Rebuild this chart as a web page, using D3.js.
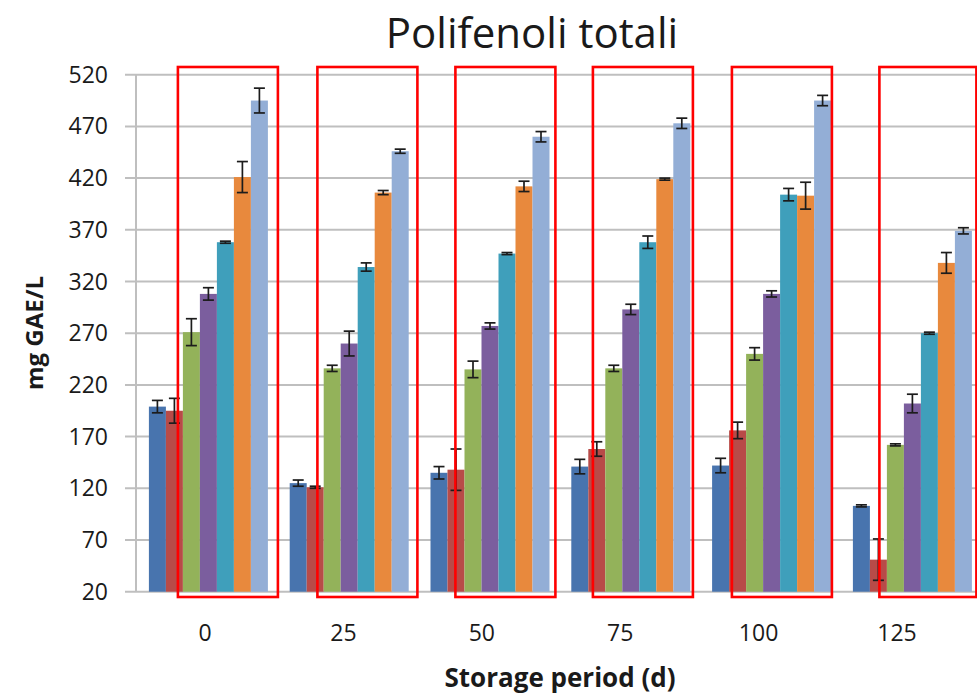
<!DOCTYPE html>
<html>
<head>
<meta charset="utf-8">
<script src="https://cdn.jsdelivr.net/npm/d3@7/dist/d3.min.js"></script>
<style>
  html, body { margin: 0; padding: 0; background: #fff; }
  svg { display: block; }
  text { font-family: "Open Sans", "Noto Sans", sans-serif; fill: #1a1a1a; }
</style>
</head>
<body>
<svg id="chart" width="977" height="694"></svg>
<script>
// Storage period (days)
const categories = ["0", "25", "50", "75", "100", "125"];
const yTicks = [20, 70, 120, 170, 220, 270, 320, 370, 420, 470, 520];

// Total polyphenols (mg GAE/L), one array per sample
const serie1 = [199, 125, 135, 141, 142, 103];
const serie2 = [195, 121, 138, 158, 176, 51];
const serie3 = [271, 236, 235, 236, 250, 162];
const serie4 = [308, 260, 277, 293, 308, 202];
const serie5 = [358, 334, 347, 358, 404, 270];
const serie6 = [421, 406, 412, 419, 403, 338];
const serie7 = [495, 446, 460, 473, 495, 369];

// Standard deviations
const err1 = [6, 3, 6, 7, 7, 1];
const err2 = [12, 1, 20, 7, 8, 20];
const err3 = [13, 3, 8, 3, 6, 1];
const err4 = [6, 12, 3, 5, 3, 9];
const err5 = [1, 4, 1, 6, 6, 1];
const err6 = [15, 2, 5, 1, 13, 10];
const err7 = [12, 2, 5, 5, 5, 3];

const seriesValues = [serie1, serie2, serie3, serie4, serie5, serie6, serie7];
const seriesErrors = [err1, err2, err3, err4, err5, err6, err7];
const colors = ["#4874ae", "#b84b48", "#93b25a", "#7b5e9e", "#3f9fbb", "#e8893d", "#93aed6"];

const svg = d3.select("#chart");
const W = 977, H = 694;
const axisX = 136, plotTop = 74.7, plotBottom = 591.7;

const y = d3.scaleLinear().domain([20, 520]).range([plotBottom, plotTop]);
const x0 = d3.scaleBand().domain(categories).range([138, 138 + 6 * 140.8]).padding(0);
const x1 = d3.scaleBand().domain(d3.range(7))
  .range([10.9, x0.bandwidth() - 10.9]).padding(0);
// Category labels sit on their own, slightly tighter spacing
const xLabel = d3.scalePoint().domain(categories).range([205, 897]);

// Title
svg.append("text").attr("x", 532).attr("y", 48).attr("text-anchor", "middle")
  .style("font-size", "42px").text("Polifenoli totali");

// Horizontal gridlines
svg.append("g").selectAll("line").data(yTicks).join("line")
  .attr("x1", 125).attr("x2", W)
  .attr("y1", d => y(d)).attr("y2", d => y(d))
  .attr("stroke", "#bfbfbf").attr("stroke-width", 2);

// Vertical axis line
svg.append("line").attr("x1", axisX).attr("x2", axisX)
  .attr("y1", plotTop).attr("y2", plotBottom)
  .attr("stroke", "#bfbfbf").attr("stroke-width", 2);

// Y tick labels
svg.append("g").selectAll("text").data(yTicks).join("text")
  .attr("x", 108).attr("y", d => y(d)).attr("dy", "0.35em")
  .attr("text-anchor", "end").style("font-size", "23px")
  .text(d => d);

// Bars with error bars
const groups = svg.append("g").selectAll("g").data(categories).join("g")
  .attr("transform", d => `translate(${x0(d)},0)`);

groups.each(function(cat, ci) {
  const g = d3.select(this);
  seriesValues.forEach((vals, si) => {
    const v = vals[ci], e = seriesErrors[si][ci];
    const bx = x1(si), bw = x1.bandwidth();
    g.append("rect")
      .attr("x", bx).attr("width", bw)
      .attr("y", y(v)).attr("height", y(20) - y(v))
      .attr("fill", colors[si]);
    const cx = bx + bw / 2, cap = 5.5;
    const eb = g.append("g").attr("stroke", "#1c1c1c").attr("stroke-width", 1.7);
    eb.append("line").attr("x1", cx).attr("x2", cx).attr("y1", y(v + e)).attr("y2", y(v - e));
    eb.append("line").attr("x1", cx - cap).attr("x2", cx + cap).attr("y1", y(v + e)).attr("y2", y(v + e));
    eb.append("line").attr("x1", cx - cap).attr("x2", cx + cap).attr("y1", y(v - e)).attr("y2", y(v - e));
  });
});

// X tick labels
svg.append("g").selectAll("text").data(categories).join("text")
  .attr("x", d => xLabel(d)).attr("y", 641)
  .attr("text-anchor", "middle").style("font-size", "23px")
  .text(d => d);

// Axis titles
svg.append("text").attr("x", 560).attr("y", 687).attr("text-anchor", "middle")
  .style("font-size", "26px").style("font-weight", "bold").text("Storage period (d)");
svg.append("text").attr("transform", "translate(43,333) rotate(-90)")
  .attr("text-anchor", "middle").style("font-size", "24px").style("font-weight", "bold")
  .text("mg GAE/L");

// Highlight frames around the third-to-seventh samples of each period
const frameShift = [-30.5, -31.8, -34.6, -37.9, -39.7, -33];
svg.append("g").selectAll("rect").data(categories).join("rect")
  .attr("x", (d, i) => x0(d) + x0.bandwidth() / 2 + frameShift[i])
  .attr("y", 67).attr("width", (d, i) => i === 5 ? 97 : 100).attr("height", 530)
  .attr("fill", "none").attr("stroke", "#ff0000").attr("stroke-width", 2.6);
</script>
</body>
</html>
